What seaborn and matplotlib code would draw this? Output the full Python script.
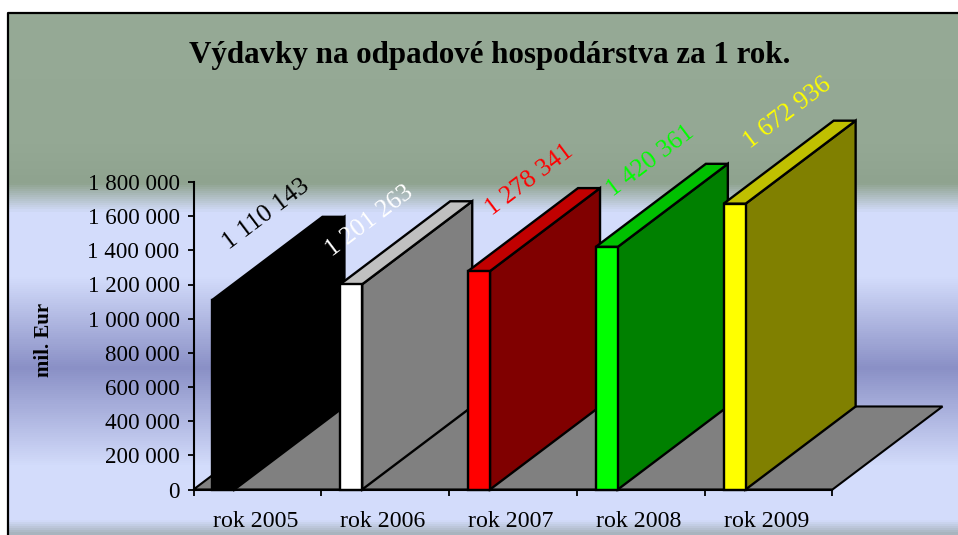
import numpy as np
import pandas as pd
import matplotlib
matplotlib.use("Agg")
import matplotlib.pyplot as plt
import seaborn as sns
from matplotlib.colors import LinearSegmentedColormap
from matplotlib.patches import Polygon
from matplotlib.transforms import ScaledTranslation

# DATA
years = ["rok 2005", "rok 2006", "rok 2007", "rok 2008", "rok 2009"]
spending = [1110143, 1201263, 1278341, 1420361, 1672936]
value_labels = ["1 110 143", "1 201 263", "1 278 341", "1 420 361", "1 672 936"]
y_ticks = [0, 200000, 400000, 600000, 800000, 1000000, 1200000, 1400000, 1600000, 1800000]
y_tick_labels = ["0", "200 000", "400 000", "600 000", "800 000", "1 000 000",
                 "1 200 000", "1 400 000", "1 600 000", "1 800 000"]

# Colours of the three visible faces of every bar
front_colors = ["#000000", "#FFFFFF", "#FF0000", "#00FF00", "#FFFF00"]
side_colors = ["#000000", "#808080", "#800000", "#008000", "#808000"]
top_colors = ["#000000", "#C0C0C0", "#C00000", "#00C000", "#C0C000"]
label_colors = ["#000000", "#FFFFFF", "#FF0000", "#00FF00", "#FFFF00"]

# Label shift from the top of the front face, in points
label_shift = [(30.5, 61.5), (13, 45.5), (36.5, 65.5), (31.5, 62), (38, 65)]

# Oblique depth of the chart, in axis units
depth_x = 0.861
depth_y = 486000
bar_width = 0.172
bar_shift = 0.266

sns.set_theme(style="white")
plt.rcParams["font.family"] = ["Liberation Serif", "DejaVu Serif"]

W, H = 958, 535
fig = plt.figure(figsize=(W / 100, H / 100), dpi=100, facecolor="white")

# Background gradient of the chart area
bg = fig.add_axes([9 / W, 0, (W - 9) / W, 1 - 14 / H], zorder=0)
stops = [(0.0, "#96AA96"), (0.25, "#94A894"), (0.324, "#8FA38F"), (0.38, "#D3DCFB"),
         (0.505, "#D3DCFB"), (0.68, "#8A90C6"), (0.87, "#D3DCFB"), (0.975, "#D3DCFB"), (1.0, "#A8B4BE")]
cmap = LinearSegmentedColormap.from_list("bg", stops)
bg.imshow(np.linspace(0, 1, 521)[:, None], aspect="auto", cmap=cmap, vmin=0, vmax=1)
bg.axis("off")

# Black frame on the left and top
frame = fig.add_axes([0, 0, 1, 1], zorder=1)
frame.set_xlim(0, W)
frame.set_ylim(H, 0)
frame.axis("off")
frame.patch.set_alpha(0)
frame.plot([8, 8, W], [H, 13, 13], color="black", lw=1.6, solid_capstyle="butt")

ax = fig.add_axes([193.5 / W, 1 - 489.5 / H, 639 / W, 307.5 / H], zorder=2)
ax.patch.set_alpha(0)

df = pd.DataFrame({"year": years, "spending": spending})
sns.barplot(data=df, x="year", y="spending", hue="year", palette=front_colors,
            width=bar_width, legend=False, saturation=1, edgecolor="black",
            linewidth=1.7, ax=ax, zorder=5)

ax.set_xlim(-0.5, 4.5)
ax.set_ylim(0, 1800000)

# Floor of the chart
floor = Polygon([(-0.5, 0), (4.5, 0), (4.5 + depth_x, depth_y), (-0.5 + depth_x, depth_y)],
                closed=True, facecolor="#808080", edgecolor="black", lw=1.5,
                clip_on=False, zorder=1)
ax.add_patch(floor)

# Move the front faces forward and add the side and top faces
for i, bar in enumerate(ax.patches[:5]):
    bar.set_x(bar.get_x() - bar_shift)
    bar.set_clip_on(False)
    x0 = bar.get_x()
    x1 = x0 + bar.get_width()
    h = bar.get_height()
    order = 5 + i * 3
    bar.set_zorder(order + 2)
    ax.add_patch(Polygon([(x1, 0), (x1 + depth_x, depth_y), (x1 + depth_x, h + depth_y), (x1, h)],
                         closed=True, facecolor=side_colors[i], edgecolor="black", lw=1.7,
                         clip_on=False, zorder=order))
    ax.add_patch(Polygon([(x0, h), (x1, h), (x1 + depth_x, h + depth_y), (x0 + depth_x, h + depth_y)],
                         closed=True, facecolor=top_colors[i], edgecolor="black", lw=1.7,
                         clip_on=False, zorder=order + 1))
    ax.annotate(value_labels[i], xy=(x0 + bar.get_width() / 2, h), xytext=label_shift[i],
                textcoords="offset points", rotation=37, rotation_mode="anchor",
                ha="center", va="center", color=label_colors[i], fontsize=18.5,
                annotation_clip=False, zorder=40)

# Axes
for side in ["top", "right"]:
    ax.spines[side].set_visible(False)
for side in ["left", "bottom"]:
    ax.spines[side].set_color("black")
    ax.spines[side].set_linewidth(1.5)
    ax.spines[side].set_zorder(35)

ax.set_yticks(y_ticks)
ax.set_yticklabels(y_tick_labels, fontsize=16.6, color="black")
ax.set_xticks(range(5))
ax.set_xticklabels(years, fontsize=17.2, color="black")
ax.set_xticks(np.arange(-0.5, 5, 1), minor=True)
ax.tick_params(axis="y", direction="out", length=4.5, width=1.3, color="black", left=True, pad=5.5)
ax.tick_params(axis="x", which="major", length=0, bottom=False, pad=15.5)
ax.tick_params(axis="x", which="minor", direction="out", length=4.5, width=1.3, color="black", bottom=True)
for label in ax.get_xticklabels():
    label.set_transform(label.get_transform() + ScaledTranslation(-1.5 / 72, 0, fig.dpi_scale_trans))
ax.set_xlabel("")
ax.set_ylabel("mil. Eur", fontsize=15, fontweight="bold", color="black")
ax.yaxis.set_label_coords((54 - 193.5) / 639, (489.5 - 340) / 307.5)

frame.text(490, 55, "Výdavky na odpadové hospodárstva za 1 rok.", ha="center", va="center",
           fontsize=22.3, fontweight="bold", color="black")

fig.savefig("out.png", dpi=100)
